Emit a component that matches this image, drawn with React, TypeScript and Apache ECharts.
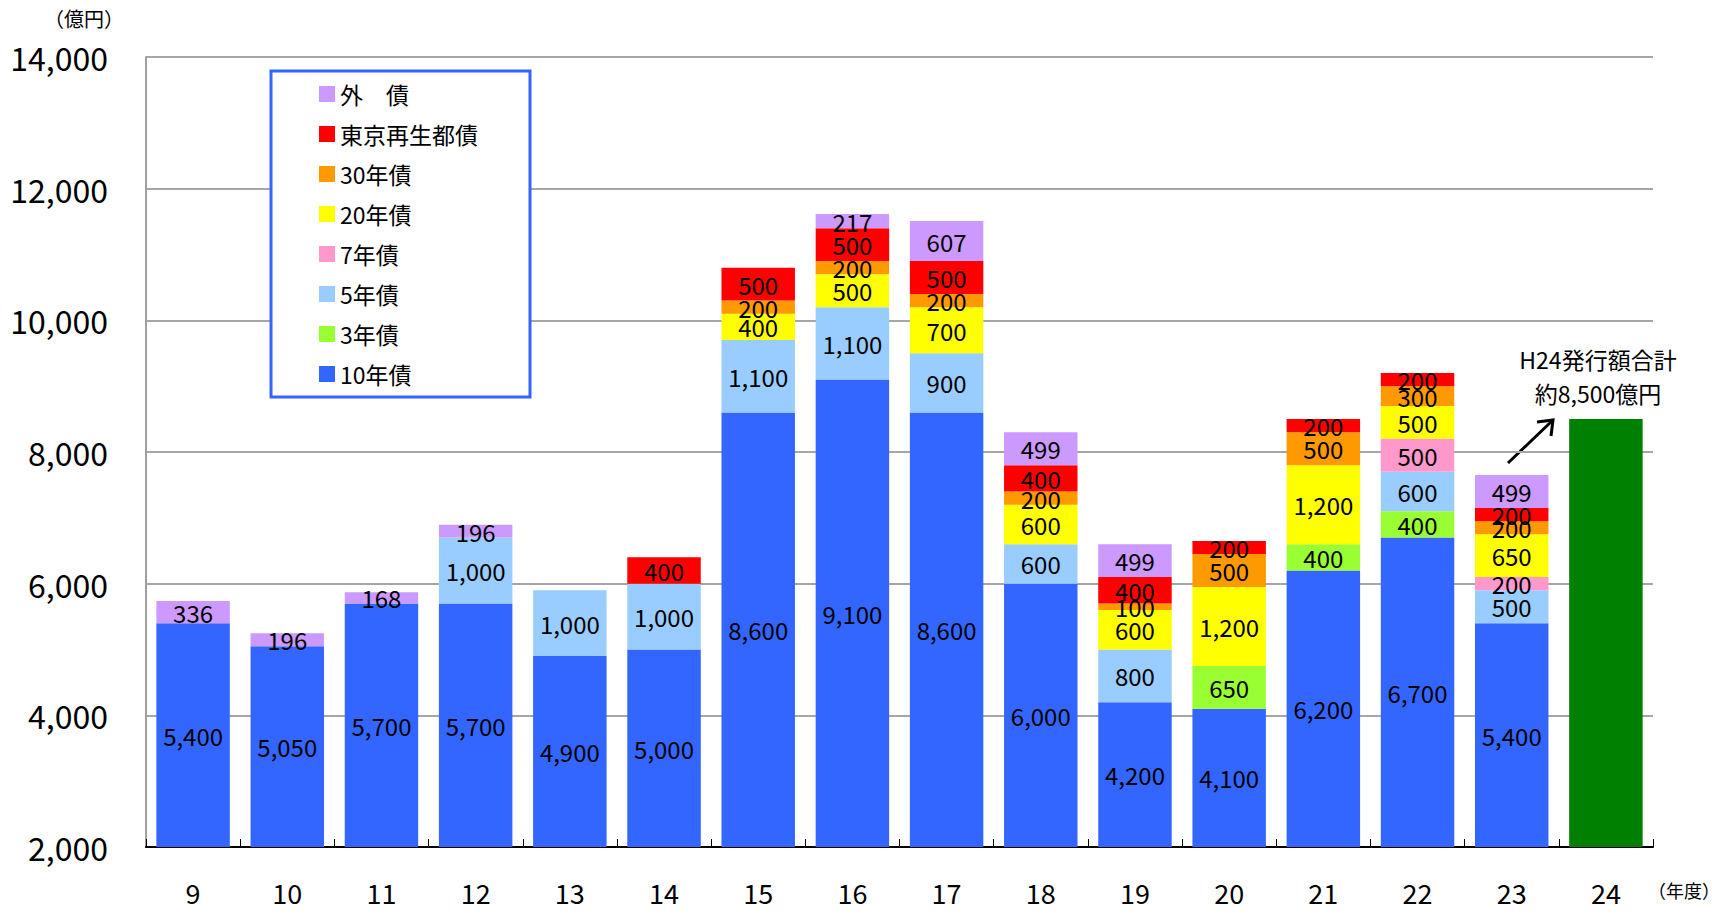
import React, { useEffect, useRef } from 'react';
import * as echarts from 'echarts';

const years = ['9', '10', '11', '12', '13', '14', '15', '16', '17', '18', '19', '20', '21', '22', '23', '24'];
const bond10 = [5400, 5050, 5700, 5700, 4900, 5000, 8600, 9100, 8600, 6000, 4200, 4100, 6200, 6700, 5400, null];
const bond3 = [null, null, null, null, null, null, null, null, null, null, null, 650, 400, 400, null, null];
const bond5 = [null, null, null, 1000, 1000, 1000, 1100, 1100, 900, 600, 800, null, null, 600, 500, null];
const bond7 = [null, null, null, null, null, null, null, null, null, null, null, null, null, 500, 200, null];
const bond20 = [null, null, null, null, null, null, 400, 500, 700, 600, 600, 1200, 1200, 500, 650, null];
const bond30 = [null, null, null, null, null, null, 200, 200, 200, 200, 100, 500, 500, 300, 200, null];
const tokyo = [null, null, null, null, null, 400, 500, 500, 500, 400, 400, 200, 200, 200, 200, null];
const foreign = [336, 196, 168, 196, null, null, null, 217, 607, 499, 499, null, null, null, 499, null];
const h24Total = [null, null, null, null, null, null, null, null, null, null, null, null, null, null, null, 8500];

const yTicks = { min: 2000, max: 14000, interval: 2000 };

const FONT = '"Noto Sans CJK JP", "Noto Sans", sans-serif';

const seriesDefs = [
  { name: '10年債', data: bond10, color: '#3366FF' },
  { name: '3年債', data: bond3, color: '#99FF33' },
  { name: '5年債', data: bond5, color: '#99CCFF' },
  { name: '7年債', data: bond7, color: '#FF99CC' },
  { name: '20年債', data: bond20, color: '#FFFF00' },
  { name: '30年債', data: bond30, color: '#FF9900' },
  { name: '東京再生都債', data: tokyo, color: '#FF0000' },
  { name: '外　債', data: foreign, color: '#CC99FF' },
];

const fmt = (v: number) => v.toLocaleString('en-US');

export default function App() {
  const ref = useRef<HTMLDivElement>(null);
  useEffect(() => {
    if (!ref.current) return;
    const chart = echarts.init(ref.current, null, { renderer: 'svg' });
    const series: any[] = seriesDefs.map((s) => ({
      name: s.name,
      type: 'bar',
      stack: 'total',
      data: s.data,
      barWidth: '78%',
      itemStyle: { color: s.color },
      label: {
        show: true,
        position: 'inside',
        color: '#000',
        fontSize: 24,
        fontFamily: FONT,
        formatter: (p: any) => (p.value == null ? '' : fmt(p.value)),
      },
    }));
    series.push({
      name: 'H24',
      type: 'bar',
      stack: 'total',
      data: h24Total,
      barWidth: '78%',
      itemStyle: { color: '#008000' },
      label: { show: false },
    });
    chart.setOption({
      animation: false,
      backgroundColor: '#fff',
      textStyle: { fontFamily: FONT },
      grid: { left: 146, right: 69, top: 57, bottom: 69 },
      legend: {
        data: seriesDefs.map((s) => s.name).reverse(),
        orient: 'vertical',
        left: 271,
        top: 71,
        itemWidth: 16,
        itemHeight: 16,
        itemGap: 16,
        icon: 'rect',
        padding: [11, 52, 11, 48],
        borderColor: '#3366FF',
        borderWidth: 3,
        backgroundColor: '#fff',
        selectedMode: false,
        textStyle: { fontSize: 23, lineHeight: 24, color: '#000', fontFamily: FONT },
      },
      xAxis: {
        type: 'category',
        data: years,
        axisLine: { lineStyle: { color: '#000', width: 2 } },
        axisTick: { show: true, inside: true, length: 8, lineStyle: { color: '#000', width: 1 } },
        axisLabel: { fontSize: 27, lineHeight: 27, color: '#000', margin: 32, fontFamily: FONT },
      },
      yAxis: {
        type: 'value',
        min: yTicks.min,
        max: yTicks.max,
        interval: yTicks.interval,
        axisLine: { show: true, lineStyle: { color: '#A0A0A0', width: 2 } },
        axisTick: { show: false },
        splitLine: { lineStyle: { color: '#A6A6A6', width: 2 } },
        axisLabel: { fontSize: 32, color: '#000', margin: 38, fontFamily: FONT, formatter: (v: number) => fmt(v) },
      },
      graphic: [
        { type: 'text', left: 44, top: 8, style: { text: '（億円）', fontSize: 20, fill: '#000', fontFamily: FONT } },
        {
          type: 'text',
          x: 1648,
          y: 890,
          style: { text: '（年度）', fontSize: 18, fill: '#000', fontFamily: FONT, verticalAlign: 'middle' },
        },
        {
          type: 'text',
          x: 1598,
          y: 376,
          style: {
            text: 'H24発行額合計\n約8,500億円',
            fontSize: 23,
            lineHeight: 34,
            fill: '#000',
            fontFamily: FONT,
            align: 'center',
            verticalAlign: 'middle',
          },
        },
        { type: 'line', shape: { x1: 1508, y1: 463, x2: 1553, y2: 420 }, style: { stroke: '#000', lineWidth: 3 } },
        {
          type: 'polyline',
          shape: { points: [[1537, 422], [1553, 420], [1551, 436]] },
          style: { stroke: '#000', lineWidth: 3, fill: 'none' },
        },
      ],
      series,
    });
    return () => chart.dispose();
  }, []);
  return <div ref={ref} style={{ position: 'fixed', left: 0, top: 0, width: 1722, height: 916 }} />;
}
